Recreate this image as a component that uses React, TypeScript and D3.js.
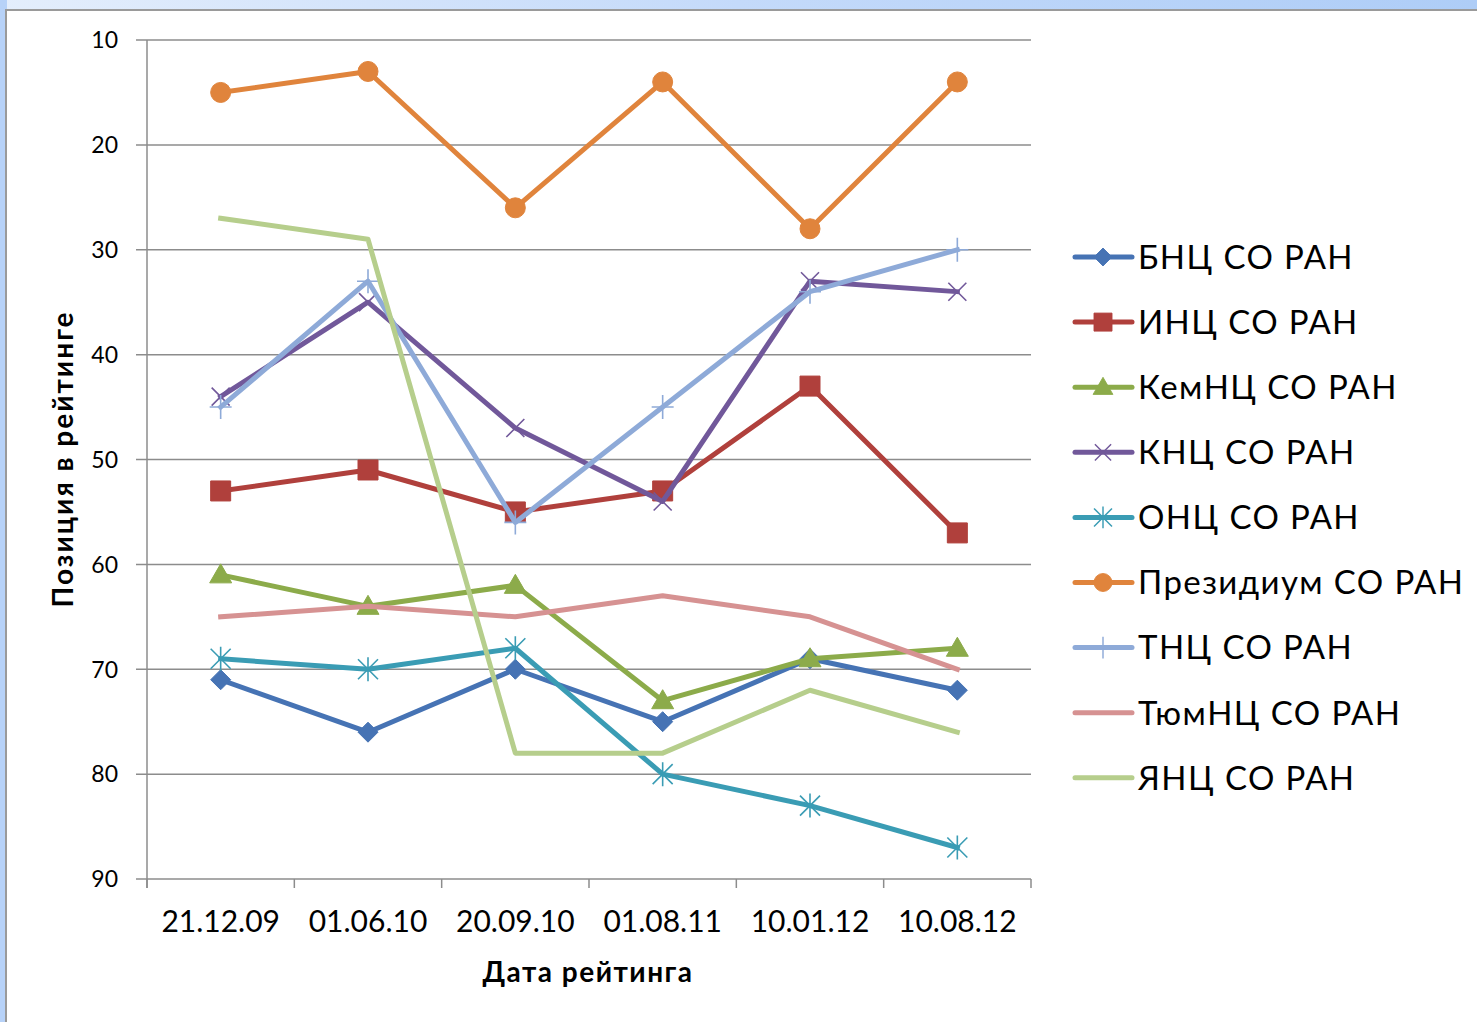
import React from "react";
import * as d3 from "d3";

const categories = ["21.12.09", "01.06.10", "20.09.10", "01.08.11", "10.01.12", "10.08.12"];
const yTicks = [10, 20, 30, 40, 50, 60, 70, 80, 90];

const seriesNames = [
  "БНЦ СО РАН",
  "ИНЦ СО РАН",
  "КемНЦ СО РАН",
  "КНЦ СО РАН",
  "ОНЦ СО РАН",
  "Президиум СО РАН",
  "ТНЦ СО РАН",
  "ТюмНЦ СО РАН",
  "ЯНЦ СО РАН",
];

const bnc = [71, 76, 70, 75, 69, 72];
const inc = [53, 51, 55, 53, 43, 57];
const kemnc = [61, 64, 62, 73, 69, 68];
const knc = [44, 35, 47, 54, 33, 34];
const onc = [69, 70, 68, 80, 83, 87];
const presidium = [15, 13, 26, 14, 28, 14];
const tnc = [45, 33, 56, 45, 34, 30];
const tyumnc = [65, 64, 65, 63, 65, 70];
const yanc = [27, 29, 78, 78, 72, 76];

const seriesValues = [bnc, inc, kemnc, knc, onc, presidium, tnc, tyumnc, yanc];
const seriesColors = ["#4673b4", "#b0403c", "#8cab4a", "#71589a", "#3a9cb4", "#e0843c", "#8eaad8", "#d69292", "#b6ce8c"];
const seriesMarkers = ["diamond", "square", "triangle", "x", "star", "circle", "plus", "none", "none"];

function markerPath(kind: string): { d: string; filled: boolean } {
  switch (kind) {
    case "diamond":
      return { d: "M0,-10L10,0L0,10L-10,0Z", filled: true };
    case "square":
      return { d: "M-10,-10H10V10H-10Z", filled: true };
    case "triangle":
      return { d: "M0,-11L11,8H-11Z", filled: true };
    case "circle":
      return { d: "M10,0A10,10 0 1,1 -10,0A10,10 0 1,1 10,0Z", filled: true };
    case "x":
      return { d: "M-9,-9L9,9M-9,9L9,-9", filled: false };
    case "star":
      return { d: "M-10,-10L10,10M-10,10L10,-10M0,-12V12", filled: false };
    case "plus":
      return { d: "M-11,0H11M0,-12V12", filled: false };
    default:
      return { d: "", filled: false };
  }
}

const W = 1477;
const H = 1022;
const plotLeft = 147;
const plotRight = 1031;
const plotTop = 40;
const plotBottom = 879;

export default function App() {
  const x = d3.scaleBand<string>().domain(categories).range([plotLeft, plotRight]);
  const cx = (c: string) => (x(c) as number) + x.bandwidth() / 2;
  const y = d3.scaleLinear().domain([10, 90]).range([plotTop, plotBottom]);
  const line = d3
    .line<number>()
    .x((_, i) => cx(categories[i]))
    .y((v) => y(v));

  const font = "Lato, 'Open Sans', sans-serif";
  const legendX = 1075;
  const legendY0 = 257;
  const legendStep = 65.1;

  const boundaries = [...categories.map((c) => x(c) as number), plotRight];

  return (
    <svg
      width={W}
      height={H}
      style={{ position: "absolute", left: 0, top: 0, display: "block" }}
      fontFamily={font}
    >
      <defs>
        <linearGradient id="bg" x1="0" y1="0" x2="1" y2="0">
          <stop offset="0" stopColor="#e4eefc" />
          <stop offset="0.5" stopColor="#c4dafa" />
          <stop offset="1" stopColor="#aecdf7" />
        </linearGradient>
      </defs>
      <rect x={0} y={0} width={W} height={H} fill="url(#bg)" />
      <rect x={0} y={0} width={7} height={H} fill="#b7d2f8" />
      <rect x={6} y={10} width={W} height={H} fill="#ffffff" stroke="#9a9a9a" strokeWidth={2} />

      {yTicks.map((t) => (
        <line key={t} x1={plotLeft - 11} x2={plotRight} y1={y(t)} y2={y(t)} stroke="#8c8c8c" strokeWidth={1.5} />
      ))}
      <line x1={plotLeft} x2={plotLeft} y1={plotTop} y2={plotBottom + 9} stroke="#8c8c8c" strokeWidth={1.5} />
      {boundaries.map((b, i) => (
        <line key={i} x1={b} x2={b} y1={plotBottom} y2={plotBottom + 9} stroke="#8c8c8c" strokeWidth={1.5} />
      ))}

      {yTicks.map((t) => (
        <text key={t} x={118} y={y(t)} dy="0.36em" textAnchor="end" fontSize={23} fill="#000">
          {t}
        </text>
      ))}
      {categories.map((c) => (
        <text key={c} x={cx(c)} y={932} textAnchor="middle" fontSize={30} fill="#000">
          {c}
        </text>
      ))}

      <text x={588} y={982} textAnchor="middle" fontSize={28} fontWeight="bold" letterSpacing={1.5} fill="#000">
        Дата рейтинга
      </text>
      <text
        transform={`translate(73,459) rotate(-90)`}
        textAnchor="middle"
        fontSize={28}
        fontWeight="bold"
        letterSpacing={2}
        fill="#000"
      >
        Позиция в рейтинге
      </text>

      {seriesValues.map((vals, si) => {
        const color = seriesColors[si];
        const m = markerPath(seriesMarkers[si]);
        return (
          <g key={si}>
            <path d={line(vals) || ""} fill="none" stroke={color} strokeWidth={5} strokeLinejoin="round" strokeLinecap="square" />
            {m.d &&
              vals.map((v, i) => (
                <path
                  key={i}
                  d={m.d}
                  transform={`translate(${cx(categories[i])},${y(v)})`}
                  fill={m.filled ? color : "none"}
                  stroke={color}
                  strokeWidth={m.filled ? 1 : 1.6}
                />
              ))}
          </g>
        );
      })}

      {seriesNames.map((name, si) => {
        const ly = legendY0 + si * legendStep;
        const color = seriesColors[si];
        const m = markerPath(seriesMarkers[si]);
        return (
          <g key={name}>
            <line x1={legendX} x2={legendX + 57} y1={ly} y2={ly} stroke={color} strokeWidth={5} strokeLinecap="round" />
            {m.d && (
              <path
                d={m.d}
                transform={`translate(${legendX + 28},${ly}) scale(0.9)`}
                fill={m.filled ? color : "none"}
                stroke={color}
                strokeWidth={m.filled ? 1 : 1.6}
              />
            )}
            <text x={legendX + 63} y={ly} dy="0.36em" fontSize={33} letterSpacing={1.4} fill="#000">
              {name}
            </text>
          </g>
        );
      })}
    </svg>
  );
}
